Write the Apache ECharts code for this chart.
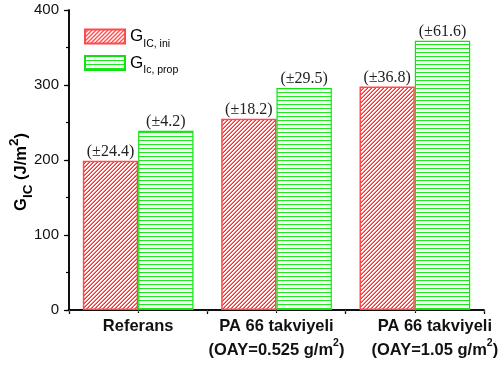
<!DOCTYPE html>
<html>
<head>
<meta charset="utf-8">
<script src="https://cdn.jsdelivr.net/npm/echarts@6/dist/echarts.min.js"></script>
<style>
  html, body { margin: 0; padding: 0; background: #fff; }
  #chart { width: 501px; height: 365px; }
</style>
</head>
<body>
<div id="chart"></div>
<script>
// Fracture toughness per specimen group
const categories = ['Referans', 'PA 66 takviyeli 0.525', 'PA 66 takviyeli 1.05'];
const iniValues = [199, 255, 298];   // G_IC, ini (J/m²)
const propValues = [239, 296, 359];  // G_IC, prop (J/m²)
const iniErr = [24.4, 18.2, 36.8];
const propErr = [4.2, 29.5, 61.6];
const yTicks = [0, 100, 200, 300, 400];

// Hatch fills, drawn pixel by pixel on small tiles
function diagonalHatch(main, soft) {
  const s = 4;
  const c = document.createElement('canvas');
  c.width = s; c.height = s;
  const g = c.getContext('2d');
  g.fillStyle = '#ffffff';
  g.fillRect(0, 0, s, s);
  for (let i = 0; i < s; i++) {
    g.fillStyle = main;
    g.fillRect(i, s - 1 - i, 1, 1);
    g.fillStyle = soft;
    g.fillRect(i, (2 * s - 2 - i) % s, 1, 1);
  }
  return c;
}
function horizontalHatch(color) {
  const s = 4;
  const c = document.createElement('canvas');
  c.width = s; c.height = s;
  const g = c.getContext('2d');
  g.fillStyle = '#ffffff';
  g.fillRect(0, 0, s, s);
  g.fillStyle = color;
  g.fillRect(0, 0, s, 1);
  return c;
}

const labelFmt = (errs) => (p) => '(±' + errs[p.dataIndex].toFixed(1) + ')';

const serif = 'Liberation Serif';
const sans = 'Liberation Sans';

const axisLabelRich = {
  b: { fontFamily: sans, fontWeight: 'bold', fontSize: 16.5, color: '#111', lineHeight: 24 },
  bs: { fontFamily: sans, fontWeight: 'bold', fontSize: 16.5, color: '#111', lineHeight: 24, padding: [0, 0, 0, 40] },
  sup: { fontFamily: sans, fontWeight: 'bold', fontSize: 10.5, color: '#111', verticalAlign: 'top', lineHeight: 24, padding: [0, 0, 6, 0] }
};

function catLabel(v, i) {
  if (i === 0) return '{b|Referans}';
  if (i === 1) return '{b|PA 66 takviyeli}\n{b|(OAY=0.525 g/m}{sup|2}{b|)}';
  return '{bs|PA 66 takviyeli}\n{bs|(OAY=1.05 g/m}{sup|2}{b|)}';
}

const chart = echarts.init(document.getElementById('chart'), null, { renderer: 'canvas' });

const tickLine = { color: '#000', width: 1.2 };

chart.setOption({
  animation: false,
  backgroundColor: '#fff',
  grid: { left: 69, right: 17, top: 10, bottom: 55, containLabel: false, outerBoundsMode: 'none' },
  legend: {
    left: 84, top: 28, padding: 0,
    orient: 'vertical',
    itemWidth: 40, itemHeight: 14, itemGap: 5,
    icon: 'rect',
    textStyle: {
      rich: {
        g: { fontFamily: sans, fontSize: 17, color: '#000', lineHeight: 26 },
        s: { fontFamily: sans, fontSize: 10.5, color: '#000', lineHeight: 13, verticalAlign: 'bottom' }
      }
    },
    formatter: (name) => name === 'ini' ? '{g|G}{s|IC, ini}' : '{g|G}{s|Ic, prop}'
  },
  xAxis: [
    {
      type: 'category',
      data: categories,
      position: 'bottom',
      axisLine: { lineStyle: { color: '#000', width: 1.5 } },
      axisTick: { show: true, length: 4, lineStyle: tickLine },
      axisLabel: { interval: 0, margin: 4, formatter: catLabel, rich: axisLabelRich }
    },
    {
      type: 'value', position: 'top', min: 0, max: 6, interval: 1,
      axisLine: { show: true, lineStyle: { color: '#000', width: 1.5 } },
      axisTick: { show: true, inside: true, length: 3, lineStyle: tickLine },
      axisLabel: { show: false }, splitLine: { show: false }
    },
    {
      type: 'value', position: 'bottom', min: 0, max: 6, interval: 1,
      axisLine: { show: false },
      axisTick: { show: true, length: 2, lineStyle: { color: '#555', width: 1 } },
      axisLabel: { show: false }, splitLine: { show: false }
    }
  ],
  yAxis: [
    {
      type: 'value', min: yTicks[0], max: yTicks[yTicks.length - 1], interval: 100,
      axisLine: { show: true, lineStyle: { color: '#000', width: 1.5 } },
      axisTick: { show: true, length: 5, lineStyle: tickLine },
      minorTick: { show: true, splitNumber: 2, length: 3, lineStyle: tickLine },
      splitLine: { show: false },
      axisLabel: { fontFamily: sans, fontSize: 15, color: '#111', margin: 10 },
      name: '{g|G}{s|IC}{n| (J/m}{sup|2}{n|)}',
      nameLocation: 'middle', nameGap: 34, nameRotate: 90,
      nameMoveOverlap: false,
      nameTextStyle: {
        padding: [0, 24, 0, 0],
        rich: {
          g: { fontFamily: sans, fontWeight: 'bold', fontSize: 16.5, color: '#000', lineHeight: 28 },
          s: { fontFamily: sans, fontWeight: 'bold', fontSize: 13.5, color: '#000', lineHeight: 16, verticalAlign: 'bottom' },
          n: { fontFamily: sans, fontWeight: 'bold', fontSize: 16.5, color: '#000', lineHeight: 28 },
          sup: { fontFamily: sans, fontWeight: 'bold', fontSize: 13.5, color: '#000', lineHeight: 16, verticalAlign: 'top' }
        }
      }
    },
    {
      type: 'value', position: 'right', min: yTicks[0], max: yTicks[yTicks.length - 1], interval: 100,
      axisLine: { show: true, lineStyle: { color: '#000', width: 1.5 } },
      axisTick: { show: true, inside: true, length: 3, lineStyle: tickLine },
      minorTick: { show: true, splitNumber: 2, length: 2, lineStyle: tickLine },
      splitLine: { show: false },
      axisLabel: { show: false }
    }
  ],
  series: [
    {
      name: 'ini', type: 'bar', xAxisIndex: 0, yAxisIndex: 0,
      data: iniValues,
      barGap: '0%', barCategoryGap: '20%',
      itemStyle: {
        color: { image: diagonalHatch('#ff2a2a', '#ff7a7a'), repeat: 'repeat' },
        borderColor: '#ff4a4a', borderWidth: 1.5
      },
      label: {
        show: true, position: 'top', distance: 1,
        fontFamily: serif, fontSize: 16, color: '#222',
        formatter: labelFmt(iniErr)
      }
    },
    {
      name: 'prop', type: 'bar', xAxisIndex: 0, yAxisIndex: 0,
      data: propValues,
      itemStyle: {
        color: { image: horizontalHatch('#1aee1a'), repeat: 'repeat' },
        borderColor: '#11e011', borderWidth: 1.2
      },
      label: {
        show: true, position: 'top', distance: 1,
        fontFamily: serif, fontSize: 16, color: '#222',
        formatter: labelFmt(propErr)
      }
    }
  ]
});
</script>
</body>
</html>
